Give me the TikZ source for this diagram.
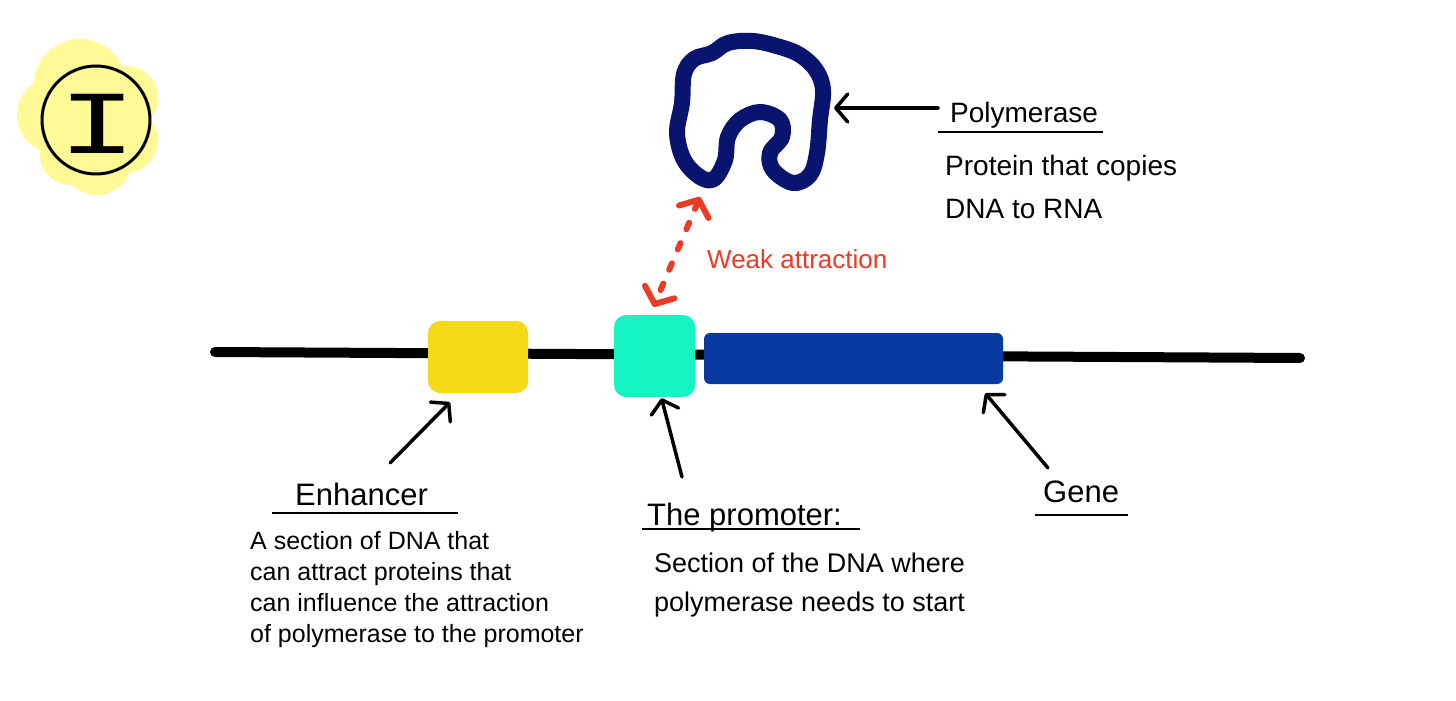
\documentclass[tikz,border=0pt]{standalone}
\usepackage{fontspec}
\setmainfont{Liberation Sans}
\newfontfamily\badgefont{Liberation Mono}
\usetikzlibrary{arrows.meta,calc}

\begin{document}
\begin{tikzpicture}[x=1pt,y=1pt,yscale=-1,xscale=1,
  hand/.style={inner sep=0pt,anchor=base west,align=left},
  title/.style={hand,font=\fontsize{31}{36}\selectfont},
  body/.style={hand,font=\fontsize{25}{31}\selectfont},
  uline/.style={line width=2pt},
  arr/.style={line width=3.5pt,line cap=round,-{Straight Barb[length=12pt,width=28pt,round]}},
  weak/.style={color={rgb, 255:red, 235; green, 58; blue, 38 },line width=6pt,line cap=round,dash pattern=on 7pt off 15pt,
    {Straight Barb[length=13pt,width=32pt,round]}-{Straight Barb[length=13pt,width=32pt,round]}},
  blk/.style={inner sep=0pt,rounded corners=12pt},
  blob/.style={fill={rgb, 255:red, 255; green, 250; blue, 150 }}
]
\useasboundingbox (0,0) rectangle (1456,701);
\fill [white] (0,0) rectangle (1456,701);

% badge
\fill [blob] (80,85) circle [radius=46];
\fill [blob] (55,115) circle [radius=38];
\fill [blob] (126,98) circle [radius=32];
\fill [blob] (125,140) circle [radius=33];
\fill [blob] (97,160) circle [radius=35];
\fill [blob] (70,155) circle [radius=30];
\draw [blob, line width=3pt] (96,120) circle [radius=54];
\draw (98,124) node (badge) [font=\badgefont\fontsize{90}{90}\selectfont, xscale=1.45] {I};

% polymerase
\draw [color={rgb, 255:red, 8; green, 20; blue, 110 }, line width=16pt, line join=round]
  plot [smooth cycle, tension=0.6] coordinates {(684,74) (682,103) (677,133) (684,160) (700,177) (714,179) (725,160) (728,137) (740,120) (760,112) (780,120) (782,137) (770,153) (773,170) (793,183) (810,175) (817,153) (820,120) (823,90) (816,70) (800,55) (780,47) (753,41) (728,43) (712,53) (694,59)};
\coordinate (polyside) at (834,108);
\coordinate (polybase) at (700,197);
\coordinate (polytail) at (938,108);

\draw (950,122) node (polytitle) [title, font=\fontsize{28}{34}\selectfont] {Polymerase};
\draw [uline] (938,132) -- (1103,132);
\draw (945,218) node (polytext) [hand, font=\fontsize{28}{43}\selectfont] {Protein that copies\\DNA to RNA};
\draw [arr] (polytail) -- (polyside);

% DNA strand
\coordinate (dnaleft) at (215,352);
\coordinate (dnaright) at (1300,358);
\draw [line width=10pt, line cap=round] (dnaleft) -- (dnaright);

\draw (478,357) node (enh) [blk, fill={rgb, 255:red, 245; green, 217; blue, 22 }, minimum width=100pt, minimum height=72pt] {};
\draw (654.5,356) node (prom) [blk, fill={rgb, 255:red, 22; green, 245; blue, 193 }, minimum width=81pt, minimum height=82pt] {};
\draw (853.5,358.5) node (gene) [blk, rounded corners=6pt, fill={rgb, 255:red, 8; green, 57; blue, 160 }, minimum width=299pt, minimum height=51pt] {};

% weak attraction
\draw [weak] (polybase) -- ($(prom.north)+(-1,-8)$);
\draw (707,268) node (weaklbl) [hand, font=\fontsize{26}{30}\selectfont, color={rgb, 255:red, 235; green, 58; blue, 38 }] {Weak attraction};

% labels below
\coordinate (enhtail) at (390,463);
\coordinate (promtail) at (682,477);
\coordinate (genetail) at (1048,468);
\draw [arr] (enhtail) -- ($(enh.south)+(-28,9)$);
\draw [arr] (promtail) -- ($(prom.south)+(7,1)$);
\draw [arr] (genetail) -- ($(gene.south east)+(-18,9)$);

\draw (295,505) node (enhtitle) [title] {Enhancer};
\draw [uline] (272,513) -- (458,513);
\draw (250,642) node (enhtext) [body] {A section of DNA that\\can attract proteins that\\can influence the attraction\\of polymerase to the promoter};

\draw (647,525) node (promtitle) [title] {The promoter:};
\draw [uline] (642,529) -- (860,529);
\draw (654,611) node (promtext) [hand, font=\fontsize{27}{39}\selectfont] {Section of the DNA where\\polymerase needs to start};

\draw (1043,502) node (genetitle) [title] {Gene};
\draw [uline] (1035,515) -- (1128,515);

\end{tikzpicture}
\end{document}
